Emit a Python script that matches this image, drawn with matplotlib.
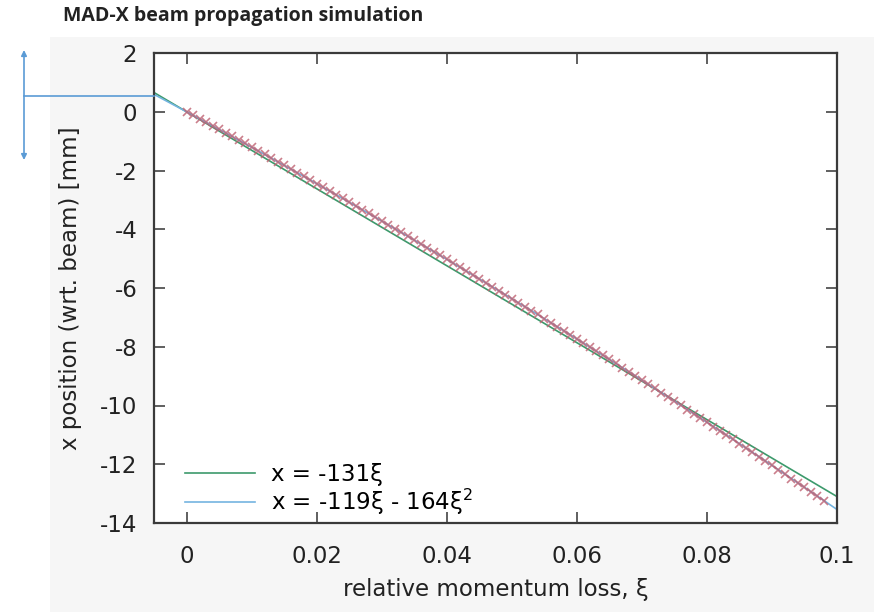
import matplotlib
matplotlib.use('Agg')
import matplotlib.pyplot as plt
import numpy as np

plt.rcParams['axes.unicode_minus'] = False
plt.rcParams['font.family'] = ['DejaVu Sans']

# simulated beam offsets
xi = [0.000, 0.001, 0.002, 0.003, 0.004, 0.005, 0.006, 0.007, 0.008, 0.009,
      0.010, 0.011, 0.012, 0.013, 0.014, 0.015, 0.016, 0.017, 0.018, 0.019,
      0.020, 0.021, 0.022, 0.023, 0.024, 0.025, 0.026, 0.027, 0.028, 0.029,
      0.030, 0.031, 0.032, 0.033, 0.034, 0.035, 0.036, 0.037, 0.038, 0.039,
      0.040, 0.041, 0.042, 0.043, 0.044, 0.045, 0.046, 0.047, 0.048, 0.049,
      0.050, 0.051, 0.052, 0.053, 0.054, 0.055, 0.056, 0.057, 0.058, 0.059,
      0.060, 0.061, 0.062, 0.063, 0.064, 0.065, 0.066, 0.067, 0.068, 0.069,
      0.070, 0.071, 0.072, 0.073, 0.074, 0.075, 0.076, 0.077, 0.078, 0.079,
      0.080, 0.081, 0.082, 0.083, 0.084, 0.085, 0.086, 0.087, 0.088, 0.089,
      0.090, 0.091, 0.092, 0.093, 0.094, 0.095, 0.096, 0.097, 0.098]
x_pos = [0.00, -0.12, -0.24, -0.36, -0.48, -0.60, -0.72, -0.84, -0.96, -1.08,
         -1.21, -1.33, -1.45, -1.58, -1.70, -1.82, -1.95, -2.07, -2.20, -2.32,
         -2.45, -2.57, -2.70, -2.82, -2.95, -3.08, -3.21, -3.33, -3.46, -3.59,
         -3.72, -3.85, -3.98, -4.11, -4.24, -4.37, -4.50, -4.63, -4.76, -4.89,
         -5.02, -5.16, -5.29, -5.42, -5.55, -5.69, -5.82, -5.96, -6.09, -6.23,
         -6.36, -6.50, -6.63, -6.77, -6.90, -7.04, -7.18, -7.32, -7.45, -7.59,
         -7.73, -7.87, -8.01, -8.15, -8.29, -8.43, -8.57, -8.71, -8.85, -8.99,
         -9.13, -9.28, -9.42, -9.56, -9.70, -9.85, -9.99, -10.14, -10.28, -10.43,
         -10.57, -10.72, -10.86, -11.01, -11.15, -11.30, -11.45, -11.59, -11.74, -11.89,
         -12.04, -12.19, -12.34, -12.49, -12.64, -12.79, -12.94, -13.09, -13.24]

# fit coefficients from the legend
lin_a = -131
quad_a, quad_b = -119, -164

xlim = (-0.005, 0.1)
ylim = (-14, 2)
xticks = [0, 0.02, 0.04, 0.06, 0.08, 0.1]
xticklabels = ['0', '0.02', '0.04', '0.06', '0.08', '0.1']
yticks = [2, 0, -2, -4, -6, -8, -10, -12, -14]

W, H = 874, 612
fig = plt.figure(figsize=(W / 100, H / 100), dpi=100)
fig.patch.set_facecolor('white')

# grey background of the embedded gnuplot image
bg = fig.add_axes([50 / W, 0, 1 - 50 / W, 1 - 37 / H], zorder=-1)
bg.set_facecolor('#f6f6f6')
bg.set_xticks([])
bg.set_yticks([])
for s in bg.spines.values():
    s.set_visible(False)

ax = fig.add_axes([154 / W, 1 - 523 / H, (837 - 154) / W, (523 - 53) / H], zorder=1)
ax.set_facecolor('white')

xs = np.linspace(xlim[0], xlim[1], 200)
ax.plot(xs, lin_a * xs, color='#3d9a6c', lw=1.2, label='x = -131ξ', zorder=2)
ax.plot(xs, quad_a * xs + quad_b * xs ** 2, color='#74b4e0', lw=1.2,
        label='x = -119ξ - 164ξ$^2$', zorder=2)
ax.plot(xi, x_pos, linestyle='none', marker='x', markersize=5.5,
        markeredgewidth=1.2, color='#bf5f70', alpha=0.8, zorder=3)

ax.set_xlim(*xlim)
ax.set_ylim(*ylim)
ax.set_xticks(xticks)
ax.set_xticklabels(xticklabels)
ax.set_yticks(yticks)
ax.tick_params(direction='in', length=8, width=1.2, color='#444444',
               top=True, right=True, labelsize=16.5, pad=12, labelcolor='#222222')
ax.tick_params(axis='x', pad=16)
for s in ax.spines.values():
    s.set_color('#3a3a3a')
    s.set_linewidth(1.6)

ax.set_xlabel('relative momentum loss, ξ', fontsize=16.5, color='#222222', labelpad=7)
ax.set_ylabel('x position (wrt. beam) [mm]', fontsize=16.5, color='#222222', labelpad=13)

leg = ax.legend(loc='lower left', bbox_to_anchor=(0.045, 0.012), frameon=False,
                fontsize=16.5, handlelength=3.05, handletextpad=0.7,
                labelspacing=0.05, borderaxespad=0, borderpad=0)

fig.text(63 / W, 1 - 16.5 / H, 'MAD-X beam propagation simulation',
         fontsize=14, fontweight='bold', family='Open Sans', va='center',
         ha='left', color='#222222')

# blue annotation arrow on the left
blue = '#5b9bd5'
fig.add_artist(plt.Line2D([24 / W, 154 / W], [1 - 96 / H, 1 - 96 / H],
                          transform=fig.transFigure, color=blue, lw=1.2))
ax.annotate('', xy=(24 / W, 1 - 50 / H), xytext=(24 / W, 1 - 160 / H),
            xycoords='figure fraction', textcoords='figure fraction',
            arrowprops=dict(arrowstyle='<|-|>', color=blue, lw=1.2,
                            mutation_scale=8, shrinkA=0, shrinkB=0),
            annotation_clip=False)

fig.savefig('out.png', dpi=100)
